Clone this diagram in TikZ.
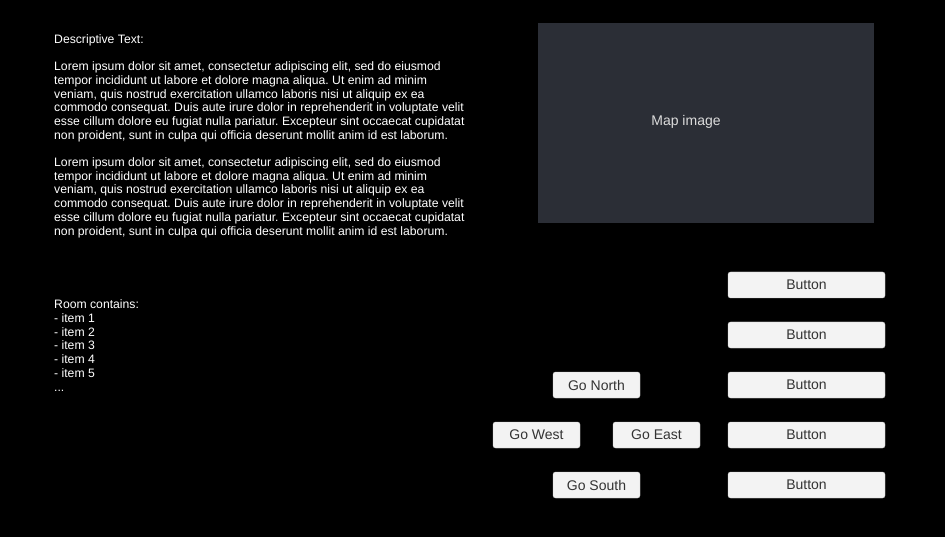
\documentclass[tikz,border=0pt]{standalone}
\usepackage{fontspec}
\setmainfont{Liberation Sans}
\frenchspacing
\definecolor{mapbg}{HTML}{2B2E36}
\definecolor{btnfill}{HTML}{F3F3F3}
\definecolor{btnedge}{HTML}{C8C8C8}
\definecolor{btntext}{HTML}{333333}
\definecolor{maptext}{HTML}{DCDCDC}
\tikzset{
  body/.style={anchor=north west, inner sep=0pt, align=left, text=white, font=\fontsize{12.2}{13.77}\selectfont},
  btn/.style={draw=btnedge, fill=btnfill, rounded corners=2.5pt, minimum height=26pt, inner sep=0pt, text=btntext, font=\fontsize{14}{16}\selectfont},
  navbtn/.style={btn, minimum width=87pt},
  widebtn/.style={btn, minimum width=157pt},
}
\begin{document}
\begin{tikzpicture}[x=1pt,y=-1pt]
\fill[black] (0,0) rectangle (945,537);
\useasboundingbox (0,0) rectangle (945,537);
\node[body] (title) at (54,34.6) {Descriptive Text:};
\node[body] (para1) at (54,61.5) {Lorem ipsum dolor sit amet, consectetur adipiscing elit, sed do eiusmod\\
tempor incididunt ut labore et dolore magna aliqua. Ut enim ad minim\\
veniam, quis nostrud exercitation ullamco laboris nisi ut aliquip ex ea\\
commodo consequat. Duis aute irure dolor in reprehenderit in voluptate velit\\
esse cillum dolore eu fugiat nulla pariatur. Excepteur sint occaecat cupidatat\\
non proident, sunt in culpa qui officia deserunt mollit anim id est laborum.};
\node[body] (para2) at (54,157.2) {Lorem ipsum dolor sit amet, consectetur adipiscing elit, sed do eiusmod\\
tempor incididunt ut labore et dolore magna aliqua. Ut enim ad minim\\
veniam, quis nostrud exercitation ullamco laboris nisi ut aliquip ex ea\\
commodo consequat. Duis aute irure dolor in reprehenderit in voluptate velit\\
esse cillum dolore eu fugiat nulla pariatur. Excepteur sint occaecat cupidatat\\
non proident, sunt in culpa qui officia deserunt mollit anim id est laborum.};
\node[body] (room) at (54,299.6) {Room contains:\\
- item 1\\
- item 2\\
- item 3\\
- item 4\\
- item 5\\
...};
\fill[mapbg] (538,23) rectangle (874,223);
\node[text=maptext, font=\fontsize{14}{16}\selectfont, inner sep=0pt] (map) at (686,122) {Map image};
\node[widebtn] (b1) at (806.5,285) {Button};
\node[widebtn] (b2) at (806.5,335) {Button};
\node[widebtn] (b3) at (806.5,385) {Button};
\node[widebtn] (b4) at (806.5,435) {Button};
\node[widebtn] (b5) at (806.5,485) {Button};
\node[navbtn] (north) at (596.5,385) {Go North};
\node[navbtn] (west) at (536.5,435) {Go West};
\node[navbtn] (east) at (656.5,435) {Go East};
\node[navbtn] (south) at (596.5,485) {Go South};
\end{tikzpicture}
\end{document}
